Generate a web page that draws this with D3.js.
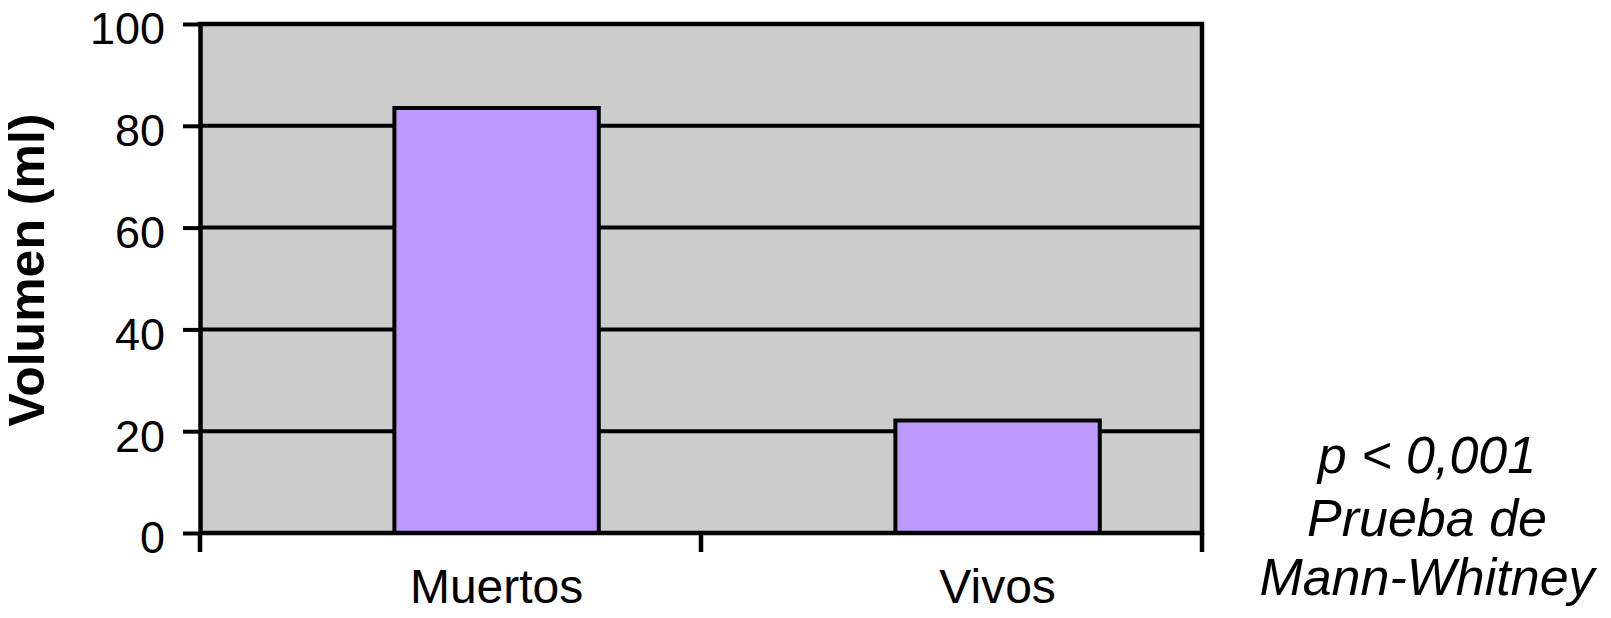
<!DOCTYPE html>
<html>
<head>
<meta charset="utf-8">
<script src="https://cdn.jsdelivr.net/npm/d3@7"></script>
<style>
  body { margin: 0; background: #fff; }
  svg { display: block; font-family: "Liberation Sans", Arial, Helvetica, sans-serif; }
</style>
</head>
<body>
<div id="chart"></div>
<script>
// data
const categories = ["Muertos", "Vivos"];
const volumes = [83.5, 22.1];
const yTicks = [0, 20, 40, 60, 80, 100];
const noteLines = ["p < 0,001", "Prueba de", "Mann-Whitney"];

const width = 1611;
const height = 618;
const plot = { left: 200, right: 1202, top: 24, bottom: 533 };

const svg = d3.select("#chart")
  .append("svg")
  .attr("width", width)
  .attr("height", height);

// scales
const y = d3.scaleLinear()
  .domain([0, 100])
  .range([plot.bottom, plot.top]);

const x = d3.scaleBand()
  .domain(categories)
  .range([plot.left, plot.right]);

// bars sit a bit right of the band centre, as in the original
const barWidth = x.bandwidth() * 0.408;
const barCenter = d => x(d) + x.bandwidth() * 0.592;

// plot background
svg.append("rect")
  .attr("x", plot.left)
  .attr("y", plot.top)
  .attr("width", plot.right - plot.left)
  .attr("height", plot.bottom - plot.top)
  .attr("fill", "#cccccc");

// gridlines
svg.append("g")
  .selectAll("line")
  .data(yTicks.filter(t => t > 0 && t < 100))
  .enter()
  .append("line")
  .attr("x1", plot.left)
  .attr("x2", plot.right)
  .attr("y1", d => y(d))
  .attr("y2", d => y(d))
  .attr("stroke", "#000")
  .attr("stroke-width", 4);

// bars
svg.append("g")
  .selectAll("rect")
  .data(categories)
  .enter()
  .append("rect")
  .attr("x", d => barCenter(d) - barWidth / 2)
  .attr("width", barWidth)
  .attr("y", (d, i) => y(volumes[i]))
  .attr("height", (d, i) => y(0) - y(volumes[i]))
  .attr("fill", "#bb99ff")
  .attr("stroke", "#000")
  .attr("stroke-width", 4);

// frame: top and right
svg.append("path")
  .attr("d", `M${plot.left},${plot.top}H${plot.right}V${plot.bottom}`)
  .attr("fill", "none")
  .attr("stroke", "#000")
  .attr("stroke-width", 4.5)
  .attr("stroke-linecap", "square");

// y axis
const yAxis = svg.append("g")
  .attr("transform", `translate(${plot.left},0)`)
  .call(d3.axisLeft(y).tickValues(yTicks).tickSize(17).tickSizeOuter(0).tickPadding(18));

yAxis.select(".domain")
  .attr("stroke-width", 4.5);
yAxis.selectAll(".tick line")
  .attr("stroke-width", 4);
yAxis.selectAll(".tick text")
  .attr("font-size", 45)
  .attr("font-family", "Liberation Sans, Arial, sans-serif")
  .attr("fill", "#000")
  .attr("dy", "0.44em");

// x axis line with ticks at band edges
const xEdges = categories.map(d => x(d)).concat([plot.right]);
svg.append("line")
  .attr("x1", plot.left)
  .attr("x2", plot.right)
  .attr("y1", y(0))
  .attr("y2", y(0))
  .attr("stroke", "#000")
  .attr("stroke-width", 4.5);

svg.append("g")
  .selectAll("line")
  .data(xEdges)
  .enter()
  .append("line")
  .attr("x1", d => d)
  .attr("x2", d => d)
  .attr("y1", y(0))
  .attr("y2", y(0) + 19)
  .attr("stroke", "#000")
  .attr("stroke-width", 4.5);

// category labels
svg.append("g")
  .selectAll("text")
  .data(categories)
  .enter()
  .append("text")
  .attr("x", d => barCenter(d))
  .attr("y", 603)
  .attr("text-anchor", "middle")
  .attr("font-size", 48)
  .text(d => d);

// y axis title
svg.append("text")
  .attr("transform", "translate(44, 270) rotate(-90)")
  .attr("text-anchor", "middle")
  .attr("font-size", 50)
  .attr("font-weight", "bold")
  .text("Volumen (ml)");

// test note
svg.append("g")
  .selectAll("text")
  .data(noteLines)
  .enter()
  .append("text")
  .attr("x", 1427)
  .attr("y", (d, i) => [473, 536, 595][i])
  .attr("text-anchor", "middle")
  .attr("font-size", 52)
  .attr("font-style", "italic")
  .text(d => d);
</script>
</body>
</html>
